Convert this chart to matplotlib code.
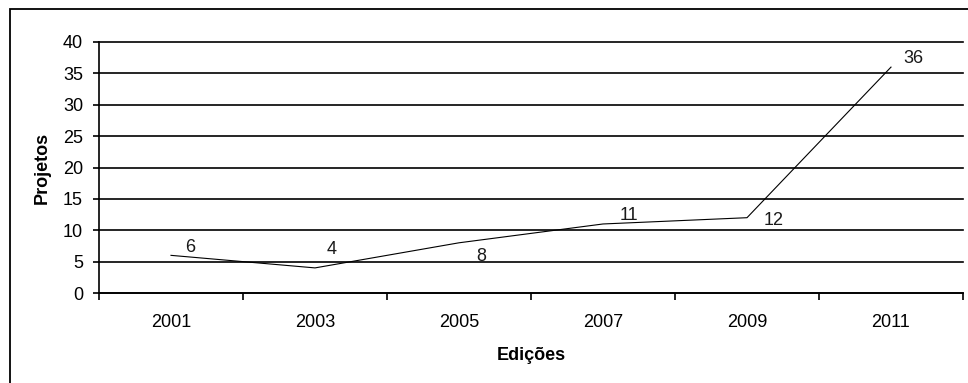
import numpy as np
import matplotlib.pyplot as plt
from matplotlib.patches import Rectangle

plt.rcParams['font.family'] = ['Liberation Sans', 'DejaVu Sans']

# edicoes e numero de projetos
edicoes = ['2001', '2003', '2005', '2007', '2009', '2011']
projetos = [6, 4, 8, 11, 12, 36]
# deslocamento dos rotulos (pontos) em relacao a cada ponto
desloc = [(14, 6), (12, 13), (16, -10), (19, 6), (19, -2), (16, 6)]

fs = 13

fig = plt.figure(figsize=(9.68, 3.83), dpi=100)

# moldura externa do grafico
fig.patches.append(Rectangle((10 / 968, -0.1), 1.1, 1 - 9 / 383 + 0.1,
                             transform=fig.transFigure, fill=False,
                             edgecolor='black', linewidth=1.3))

ax = fig.add_axes([99 / 968, 1 - 293 / 383, 864 / 968, 251 / 383])
x = np.arange(len(edicoes))
ax.plot(x, projetos, color='black', linewidth=0.8)

for xi, yi, (dx, dy) in zip(x, projetos, desloc):
    ax.annotate(str(yi), (xi, yi), xytext=(dx, dy), textcoords='offset points',
                ha='center', va='center', fontsize=fs, color='#1a1a1a')

ax.set_xlim(-0.5, len(edicoes) - 0.5)
ax.set_ylim(0, 40)
ax.set_yticks(np.arange(0, 41, 5))
ax.set_xticks(x)
ax.set_xticklabels(edicoes)
ax.set_xticks(np.arange(-0.5, len(edicoes)), minor=True)
ax.tick_params(axis='x', which='major', length=0, pad=15, labelsize=fs)
ax.tick_params(axis='x', which='minor', length=5, width=1.2, direction='out')
ax.tick_params(axis='y', length=4.5, width=1.2, pad=7, labelsize=fs)

ax.grid(axis='y', color='black', linewidth=1.2)
for g in ax.get_ygridlines():
    g.set_clip_on(False)
ax.set_axisbelow(True)
for s in ['top', 'right']:
    ax.spines[s].set_visible(False)
for s in ['left', 'bottom']:
    ax.spines[s].set_linewidth(1.2)

ax.set_xlabel('Edições', fontsize=fs, fontweight='bold', labelpad=12)
ax.set_ylabel('Projetos', fontsize=fs, fontweight='bold', labelpad=9)

fig.savefig('out.png', dpi=100)
